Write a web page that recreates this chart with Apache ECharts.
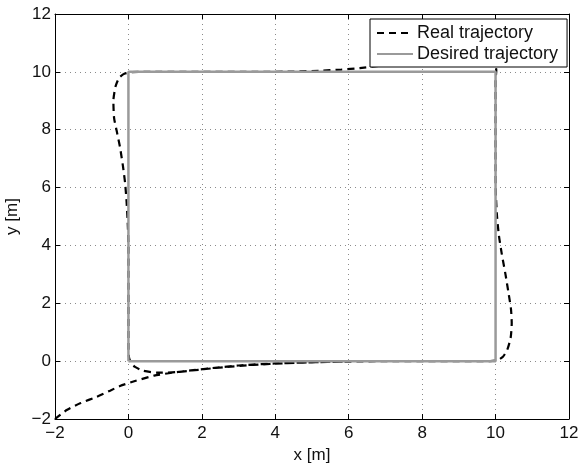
<!DOCTYPE html>
<html>
<head>
<meta charset="utf-8">
<script src="https://cdn.jsdelivr.net/npm/echarts@6/dist/echarts.min.js"></script>
<style>
  html, body { margin: 0; padding: 0; background: #fff; }
  #chart { width: 580px; height: 465px; }
</style>
</head>
<body>
<div id="chart"></div>
<script>
// Axis range and ticks (metres)
const axisMin = -2;
const axisMax = 12;
const tickStep = 2;

// Square path the robot is asked to follow
const desiredTrajectory = [
  [0, 0], [10, 0], [10, 10], [0, 10], [0, 0]
];

// Path the robot actually drove, starting from (-2, -2)
const realTrajectory = [
  [-2, -2], [-1.68, -1.69], [-1.3, -1.45], [-0.86, -1.23], [-0.5, -1.02],
  [-0.23, -0.86], [0.2, -0.68], [0.7, -0.5], [1.2, -0.4], [1.7, -0.32],
  [2.2, -0.25], [3, -0.15], [4, -0.08], [5, -0.04], [6, -0.015], [7, 0],
  [9.5, 0], [9.85, 0], [10.05, 0.03], [10.2, 0.15], [10.32, 0.4],
  [10.41, 0.8], [10.44, 1.3], [10.42, 1.8], [10.36, 2.3], [10.27, 3.0],
  [10.17, 3.7], [10.09, 4.35], [10.04, 5.0], [10.01, 5.7], [10, 6.5],
  [10, 9.7], [10.02, 10.05], [9.95, 10.35], [9.7, 10.55], [9.2, 10.6],
  [8.5, 10.5], [7.6, 10.35], [6.9, 10.22], [6.3, 10.13], [5.8, 10.08],
  [5.2, 10.04], [4.5, 10.01], [3.5, 10], [0.4, 10], [0.1, 9.99],
  [-0.1, 9.94], [-0.25, 9.8], [-0.35, 9.5], [-0.41, 9.0], [-0.39, 8.4],
  [-0.31, 7.9], [-0.23, 7.4], [-0.15, 6.75], [-0.09, 6.15], [-0.05, 5.5],
  [-0.02, 4.8], [0, 4], [0, 0.4], [0.02, 0.1], [0.08, -0.08], [0.18, -0.2],
  [0.4, -0.33], [0.8, -0.4], [1.3, -0.38], [1.9, -0.3], [2.6, -0.21],
  [3.4, -0.13], [4.3, -0.07], [5.2, -0.03], [6, -0.01]
];

const seriesNames = ['Real trajectory', 'Desired trajectory'];

const FONT = "'Liberation Sans', Arial, Helvetica, sans-serif";
const minusSign = v => String(v).replace('-', '\u2212');

const gridLine = {
  show: true,
  lineStyle: { color: '#8a8a8a', width: 1, type: [1, 4] }
};

function axisBase(extra) {
  return Object.assign({
    type: 'value',
    min: axisMin,
    max: axisMax,
    interval: tickStep,
    axisLine: { show: true, onZero: false, lineStyle: { color: '#000', width: 1 } },
    axisTick: { show: true, inside: true, length: 5, lineStyle: { color: '#000' } },
    splitLine: { show: false }
  }, extra);
}

const chart = echarts.init(document.getElementById('chart'), null, { renderer: 'canvas' });

chart.setOption({
  animation: false,
  backgroundColor: '#fff',
  textStyle: { fontFamily: FONT },
  grid: {
    left: 55, right: 11, top: 14, bottom: 46,
    containLabel: false,
    outerBoundsMode: 'none'
  },
  legend: {
    data: seriesNames,
    orient: 'vertical',
    left: 370,
    top: 19,
    backgroundColor: '#fff',
    borderColor: '#000',
    borderWidth: 1,
    borderRadius: 0,
    padding: [5, 9, 4, 6],
    itemGap: 3,
    itemWidth: 36,
    itemHeight: 18,
    itemStyle: { opacity: 0 },
    textStyle: { fontFamily: FONT, fontSize: 18, color: '#111', padding: [0, 0, 0, -1] }
  },
  xAxis: [
    axisBase({
      position: 'bottom',
      name: 'x [m]',
      nameLocation: 'middle',
      nameGap: 27,
      nameTextStyle: { fontFamily: FONT, fontSize: 17, color: '#111' },
      axisLabel: { margin: 6, fontFamily: FONT, fontSize: 17, color: '#111', formatter: minusSign },
      splitLine: gridLine
    }),
    axisBase({ position: 'top', axisLabel: { show: false } })
  ],
  yAxis: [
    axisBase({
      position: 'left',
      name: 'y [m]',
      nameLocation: 'middle',
      nameGap: 28,
      nameTextStyle: { fontFamily: FONT, fontSize: 17, color: '#111' },
      axisLabel: { margin: 4, fontFamily: FONT, fontSize: 17, color: '#111', formatter: minusSign },
      splitLine: gridLine
    }),
    axisBase({ position: 'right', axisLabel: { show: false } })
  ],
  series: [
    {
      name: seriesNames[0],
      type: 'line',
      data: realTrajectory,
      symbol: 'none',
      smooth: 0.2,
      color: '#000',
      lineStyle: { color: '#000', width: 2.2, type: [7, 5] },
      z: 2
    },
    {
      name: seriesNames[1],
      type: 'line',
      data: desiredTrajectory,
      symbol: 'none',
      color: '#9a9a9a',
      lineStyle: { color: '#9a9a9a', width: 2.5, type: 'solid' },
      z: 3
    }
  ]
});
</script>
</body>
</html>
